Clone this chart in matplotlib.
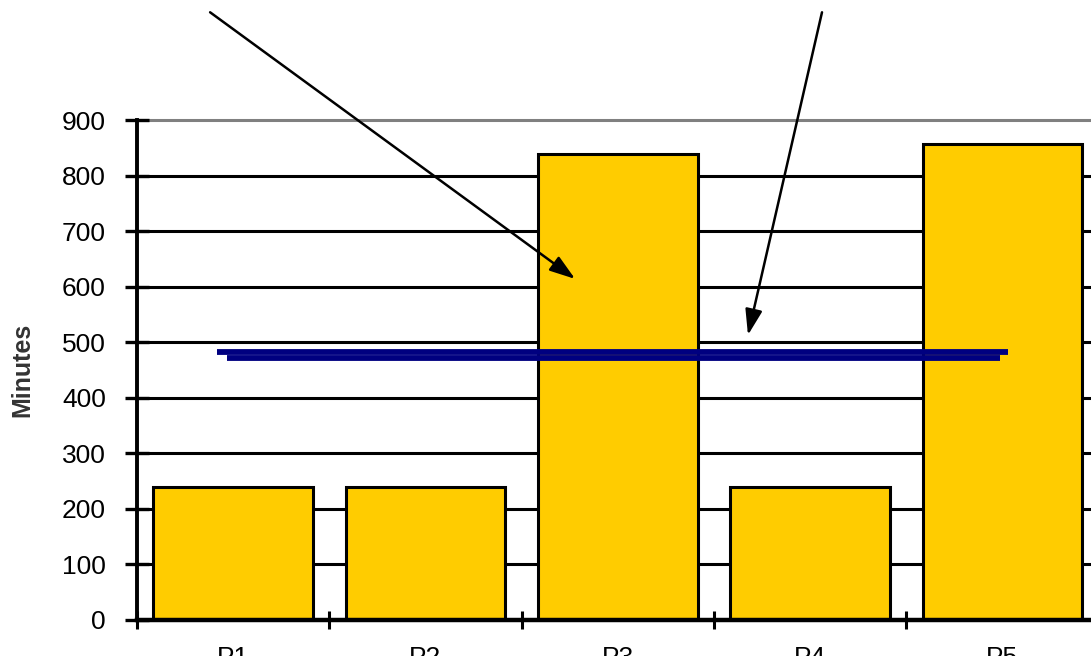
import matplotlib
matplotlib.use("Agg")
import matplotlib.pyplot as plt

# ---- data ----
categories = ["P1", "P2", "P3", "P4", "P5"]
minutes = [240, 240, 838, 240, 857]
avg_upper = 482
avg_lower = 472
avg_upper_span = [-0.084, 4.027]
avg_lower_span = [-0.032, 3.99]
y_ticks = [0, 100, 200, 300, 400, 500, 600, 700, 800, 900]
# annotation arrows: (start x, start y) -> (tip x, tip y) in data units
arrow1 = [(-0.12, 1094), (1.778, 614)]
arrow2 = [(3.062, 1094), (2.677, 513)]

plt.rcParams['font.family'] = ['Liberation Sans', 'DejaVu Sans']

fig = plt.figure(figsize=(10.91, 6.56), dpi=100)
ax = fig.add_axes([0.1256, 0.0549, 0.8813, 0.7621])

x = list(range(len(categories)))
ax.set_axisbelow(True)
for yv in y_ticks[1:-1]:
    ax.axhline(yv, color='black', lw=2.2, zorder=0)
ax.axhline(y_ticks[-1], color='#808080', lw=2.2, zorder=0, clip_on=False)

ax.bar(x, minutes, width=0.83, color='#FFCC00', edgecolor='black', linewidth=2.2, zorder=2)

ax.plot(avg_lower_span, [avg_lower, avg_lower], color='#000080', lw=4.2,
        solid_capstyle='butt', zorder=3)
ax.plot(avg_upper_span, [avg_upper, avg_upper], color='#000080', lw=4.2,
        solid_capstyle='butt', zorder=3)

ax.set_xlim(-0.5, 4.5)
ax.set_ylim(0, 900)
ax.set_yticks(y_ticks)
ax.set_yticklabels([str(v) for v in y_ticks], fontsize=19, color='black')
ax.set_xticks([i - 0.5 for i in range(len(categories) + 1)])
ax.set_xticklabels([])
ax.set_xticks(x, minor=True)
ax.set_xticklabels(categories, minor=True, fontsize=19)
ax.tick_params(axis='x', which='minor', length=0, pad=19)
ax.tick_params(axis='x', which='major', direction='inout', length=13, width=2.2)
ax.tick_params(axis='y', direction='inout', length=17, width=2.4, pad=14)

for s in ['top', 'right']:
    ax.spines[s].set_visible(False)
ax.spines['left'].set_linewidth(2.8)
ax.spines['bottom'].set_linewidth(3.2)

ax.set_ylabel("Minutes", fontsize=18, fontweight='bold', color='#333333', labelpad=20)

for start, tip in [arrow1, arrow2]:
    ax.annotate("", xy=tip, xytext=start, xycoords='data', textcoords='data',
                annotation_clip=False,
                arrowprops=dict(arrowstyle='-|>,head_length=0.6,head_width=0.2',
                                color='black', lw=1.8,
                                mutation_scale=26, shrinkA=0, shrinkB=0),
                zorder=5)

fig.savefig("out.png", dpi=100)
